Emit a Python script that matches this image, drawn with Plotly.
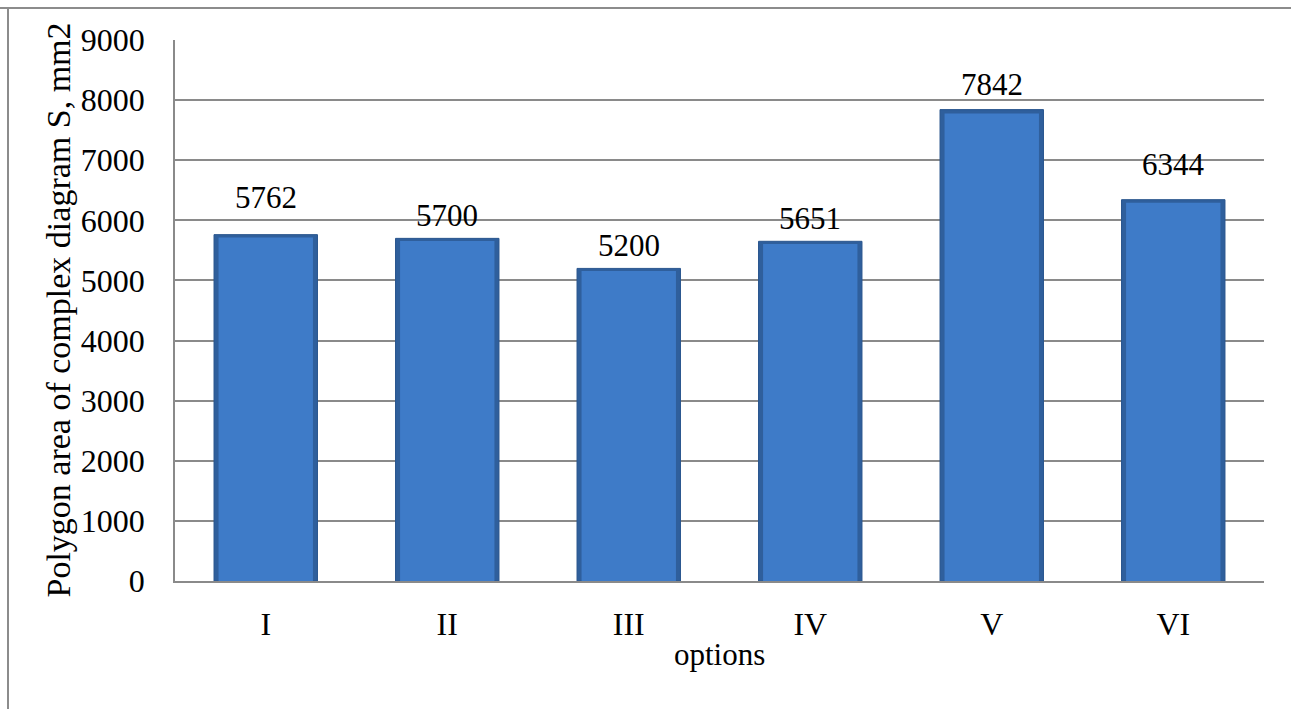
import plotly.graph_objects as go

categories = ["I", "II", "III", "IV", "V", "VI"]
values = [5762, 5700, 5200, 5651, 7842, 6344]
y_ticks = [0, 1000, 2000, 3000, 4000, 5000, 6000, 7000, 8000, 9000]

# pixel offsets of the value labels above each bar (as placed in the reference)
label_shift = [18, 3, 3, 3, 6, 16]

FONT = "Liberation Serif, Times New Roman, serif"
GRID = "#8a8a8a"

fig = go.Figure()
# outer bar (dark bevel edge)
fig.add_trace(go.Bar(
    x=categories, y=values, width=0.57,
    marker=dict(color="#2f5f9c", line=dict(color="#2a568e", width=1)),
    hoverinfo="skip", showlegend=False,
))
# inner body
fig.add_trace(go.Bar(
    x=categories, y=[v * 0.992 for v in values], width=0.52,
    marker=dict(color="#3e7bc8", line=dict(width=0)),
    hoverinfo="skip", showlegend=False,
))

annotations = []
for c, v, s in zip(categories, values, label_shift):
    annotations.append(dict(
        x=c, y=v, xref="x", yref="y", text=str(v), showarrow=False,
        yanchor="bottom", yshift=s, font=dict(family=FONT, size=31, color="black"),
    ))
annotations.append(dict(
    x=0.5, y=0, xref="paper", yref="paper", text="options", showarrow=False,
    yanchor="middle", yshift=-73, font=dict(family=FONT, size=31, color="black"),
))
annotations.append(dict(
    x=0, y=0.5, xref="paper", yref="paper", text="Polygon area of complex diagram S, mm2",
    showarrow=False, textangle=-90, xanchor="center", yanchor="middle", xshift=-117,
    font=dict(family=FONT, size=34, color="black"),
))

fig.update_layout(
    width=1291, height=709,
    margin=dict(l=175, r=27, t=40, b=128),
    paper_bgcolor="white", plot_bgcolor="white",
    barmode="overlay",
    font=dict(family=FONT, size=32, color="black"),
    annotations=annotations,
    shapes=[
        dict(type="line", xref="paper", yref="paper", x0=-175/1089, x1=(1291-175)/1089,
             y0=(709-8-128)/541, y1=(709-8-128)/541, line=dict(color="#8c8c8c", width=2)),
        dict(type="line", xref="paper", yref="paper", x0=-167/1089, x1=-167/1089,
             y0=(709-8-128)/541, y1=-128/541, line=dict(color="#8c8c8c", width=2)),
    ],
)
fig.update_xaxes(
    showgrid=False, showline=True, linecolor=GRID, linewidth=1.5,
    ticks="outside", ticklen=0, ticklabelstandoff=14,
    tickfont=dict(family=FONT, size=32, color="black"),
)
fig.update_yaxes(
    range=[0, 9000], tickvals=y_ticks, showgrid=True, gridcolor=GRID, gridwidth=1.5,
    showline=True, linecolor=GRID, linewidth=1.5, zeroline=False,
    ticks="outside", ticklen=0, ticklabelstandoff=22,
    tickfont=dict(family=FONT, size=32, color="black"),
)

fig.write_html("out.html")
